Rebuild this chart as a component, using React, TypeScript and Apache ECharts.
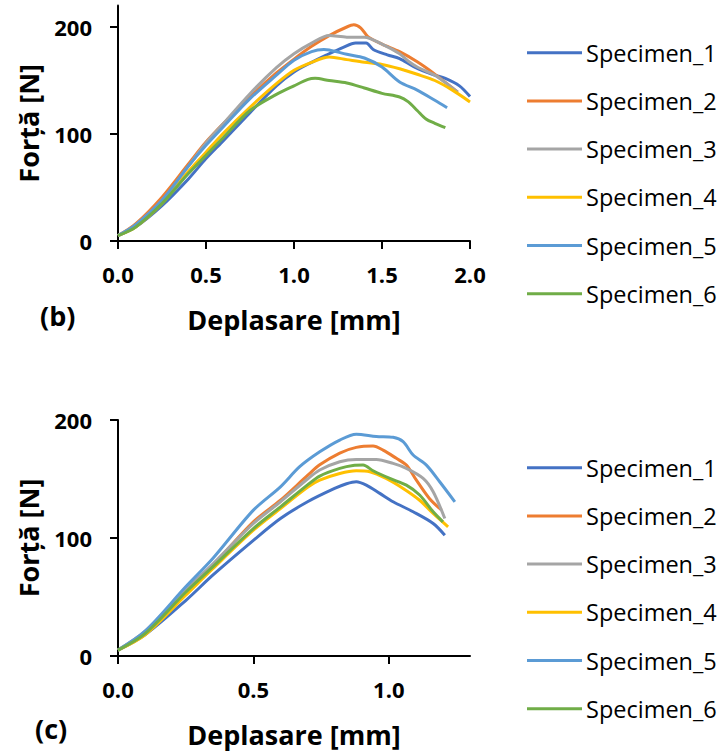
import React, { useEffect, useRef } from "react";
import * as echarts from "echarts";

const names = ["Specimen_1", "Specimen_2", "Specimen_3", "Specimen_4", "Specimen_5", "Specimen_6"];
const colors = ["#4472C4", "#ED7D31", "#A5A5A5", "#FFC000", "#5B9BD5", "#70AD47"];

const xTicksB = [0, 0.5, 1.0, 1.5, 2.0];
const xTicksC = [0, 0.5, 1.0];
const yTicks = [0, 100, 200];

// Panel (b)
const b1 = [[0, 5], [0.1, 13], [0.25, 33], [0.4, 58], [0.5, 77], [0.6, 94], [0.75, 120], [0.9, 145], [1.0, 158], [1.1, 167], [1.18, 173.5], [1.28, 181], [1.35, 185], [1.41, 185], [1.45, 179], [1.53, 174], [1.6, 170.5], [1.68, 163], [1.79, 155.5], [1.86, 152], [1.94, 145], [2.0, 135]];
const b2 = [[0, 5], [0.1, 16], [0.25, 41], [0.4, 72], [0.5, 92.5], [0.6, 110], [0.75, 134.6], [0.9, 157], [1.0, 170], [1.1, 182], [1.2, 192], [1.3, 200], [1.34, 202], [1.38, 199], [1.42, 191], [1.5, 184], [1.6, 177], [1.7, 167.5], [1.8, 156], [1.9, 143], [1.93, 139]];
const b3 = [[0, 5], [0.1, 15], [0.25, 38], [0.4, 70], [0.5, 91.6], [0.6, 110], [0.75, 137.7], [0.9, 162], [1.0, 175], [1.1, 185], [1.2, 192], [1.3, 190.5], [1.4, 190.5], [1.5, 184], [1.6, 175], [1.65, 168], [1.7, 162.6], [1.8, 155], [1.9, 143], [1.93, 139]];
const b4 = [[0, 5], [0.1, 13], [0.25, 35], [0.4, 65], [0.5, 83], [0.6, 101], [0.75, 125], [0.9, 147], [1.0, 159.5], [1.1, 167], [1.2, 172], [1.3, 169.5], [1.4, 167], [1.5, 165], [1.6, 161], [1.7, 155.8], [1.8, 150], [1.9, 141], [2.0, 130]];
const b5 = [[0, 5], [0.1, 15], [0.25, 38], [0.4, 70], [0.5, 89.4], [0.6, 107], [0.75, 133], [0.9, 155], [1.0, 169], [1.1, 177], [1.17, 179], [1.2, 178.5], [1.3, 174.5], [1.4, 171], [1.5, 162.6], [1.6, 148.6], [1.7, 141], [1.8, 131.5], [1.87, 124.6]];
const b6 = [[0, 5], [0.1, 13], [0.25, 35], [0.4, 63], [0.5, 80], [0.6, 97], [0.75, 122], [0.9, 137], [1.0, 145], [1.08, 151], [1.12, 152], [1.2, 150], [1.3, 147.7], [1.4, 143], [1.5, 138], [1.6, 134.6], [1.65, 130], [1.7, 122], [1.75, 114], [1.8, 110], [1.86, 106]];

// Panel (c)
const c1 = [[0, 5], [0.1, 18], [0.25, 47], [0.35, 68.5], [0.5, 98], [0.6, 116.5], [0.7, 130.7], [0.8, 142], [0.844, 146], [0.88, 147.7], [0.917, 144.8], [0.967, 137.8], [1.016, 130.7], [1.09, 122.2], [1.164, 112.3], [1.207, 102.4]];
const c2 = [[0, 5], [0.1, 20], [0.25, 55.7], [0.35, 77], [0.5, 113.7], [0.6, 132], [0.7, 153], [0.745, 162], [0.819, 172], [0.88, 176.8], [0.942, 178], [0.979, 174.5], [1.028, 167.5], [1.065, 161.8], [1.102, 149], [1.15, 133.5], [1.195, 123.6]];
const c3 = [[0, 5], [0.1, 21], [0.25, 56], [0.35, 78], [0.5, 112.3], [0.6, 130.7], [0.7, 150], [0.745, 157.6], [0.819, 164.6], [0.88, 166.6], [0.954, 166.6], [1.016, 163.2], [1.065, 159], [1.127, 150.5], [1.164, 139.2], [1.207, 116.5]];
const c4 = [[0, 5], [0.1, 18], [0.25, 51.5], [0.35, 74], [0.5, 106.6], [0.6, 125], [0.7, 143], [0.745, 149], [0.819, 154.7], [0.88, 157], [0.93, 156.2], [0.99, 150.5], [1.053, 142], [1.114, 132], [1.164, 120.8], [1.219, 109.5]];
const c5 = [[0, 5], [0.1, 21], [0.25, 58.6], [0.35, 82.6], [0.5, 123.6], [0.6, 143.4], [0.671, 160.4], [0.745, 173], [0.819, 183], [0.88, 188], [0.954, 186], [1.016, 185.3], [1.053, 181.6], [1.09, 170.3], [1.139, 161.8], [1.188, 147.7], [1.244, 130.7]];
const c6 = [[0, 5], [0.1, 19], [0.25, 54], [0.35, 75.5], [0.5, 108], [0.6, 126.4], [0.7, 145], [0.745, 152.5], [0.819, 159], [0.868, 161.5], [0.905, 161.8], [0.942, 157], [1.004, 150.5], [1.065, 144.8], [1.114, 136.4], [1.164, 122.2], [1.2, 113.7]];

const panelB = [b1, b2, b3, b4, b5, b6];
const panelC = [c1, c2, c3, c4, c5, c6];

const FONT = '"Open Sans", "Liberation Sans", sans-serif';

function xAxisOpt(gridIndex: number, max: number, ticks: number[]) {
  return {
    type: "value",
    gridIndex,
    min: 0,
    max,
    interval: 0.5,
    name: "Deplasare [mm]",
    nameLocation: "middle",
    nameGap: 63,
    nameTextStyle: { fontFamily: FONT, fontWeight: "bold", fontSize: 27, color: "#000", lineHeight: 30 },
    splitLine: { show: false },
    axisLine: { show: true, onZero: false, lineStyle: { color: "#000", width: 2 } },
    axisTick: { show: true, length: 8, customValues: ticks, lineStyle: { color: "#000", width: 2 } },
    axisLabel: {
      customValues: ticks,
      margin: 22,
      fontFamily: FONT,
      fontWeight: "bold",
      fontSize: 22,
      color: "#000",
      formatter: (v: number) => v.toFixed(1),
    },
  };
}

function yAxisOpt(gridIndex: number) {
  return {
    type: "value",
    gridIndex,
    min: 0,
    max: gridIndex === 0 ? 220 : 200,
    interval: 100,
    name: "Forță [N]",
    nameLocation: "middle",
    nameGap: 76,
    nameTextStyle: { fontFamily: FONT, fontWeight: "bold", fontSize: 27, color: "#000" },
    splitLine: { show: false },
    axisLine: { show: true, onZero: false, lineStyle: { color: "#000", width: 2 } },
    axisTick: { show: true, length: 8, customValues: yTicks, lineStyle: { color: "#000", width: 2 } },
    axisLabel: {
      customValues: yTicks,
      margin: 26,
      fontFamily: FONT,
      fontWeight: "bold",
      fontSize: 22,
      color: "#000",
    },
  };
}

function legendOpt(top: number) {
  return {
    orient: "vertical",
    left: 522,
    top,
    padding: 5,
    icon: "path://M0,0H55V3H0Z",
    itemWidth: 55,
    itemHeight: 24,
    itemGap: 24.2,
    selectedMode: false,
    data: names,
    textStyle: { fontFamily: FONT, fontSize: 23.5, color: "#000", lineHeight: 24, padding: [0, 0, 0, -1] },
  };
}

export default function App() {
  const ref = useRef<HTMLDivElement>(null);
  useEffect(() => {
    if (!ref.current) return;
    const chart = echarts.init(ref.current, undefined, { renderer: "svg" });
    const series: any[] = [];
    panelB.forEach((d, i) => {
      series.push({
        name: names[i],
        type: "line",
        xAxisIndex: 0,
        yAxisIndex: 0,
        data: d,
        smooth: 0.3,
        showSymbol: false,
        symbol: "none",
        lineStyle: { color: colors[i], width: 3 },
        itemStyle: { color: colors[i] },
      });
    });
    panelC.forEach((d, i) => {
      series.push({
        name: names[i],
        type: "line",
        xAxisIndex: 1,
        yAxisIndex: 1,
        data: d,
        smooth: 0.3,
        showSymbol: false,
        symbol: "none",
        lineStyle: { color: colors[i], width: 3 },
        itemStyle: { color: colors[i] },
      });
    });
    chart.setOption({
      animation: false,
      backgroundColor: "#fff",
      grid: [
        { left: 118, top: 5.6, width: 352, height: 235.4 },
        { left: 118, top: 420, width: 352, height: 236 },
      ],
      xAxis: [xAxisOpt(0, 2, xTicksB), xAxisOpt(1, 1.3, xTicksC)],
      yAxis: [yAxisOpt(0), yAxisOpt(1)],
      legend: [legendOpt(35.7), legendOpt(450.7)],
      graphic: [
        { type: "text", x: 40, y: 315, style: { text: "(b)", font: `bold 27px ${FONT}`, fill: "#000", verticalAlign: "middle", align: "left" } },
        { type: "text", x: 35, y: 728, style: { text: "(c)", font: `bold 27px ${FONT}`, fill: "#000", verticalAlign: "middle", align: "left" } },
      ],
      series,
    });
    return () => chart.dispose();
  }, []);
  return <div ref={ref} style={{ position: "absolute", left: 0, top: 0, width: 720, height: 751 }} />;
}
